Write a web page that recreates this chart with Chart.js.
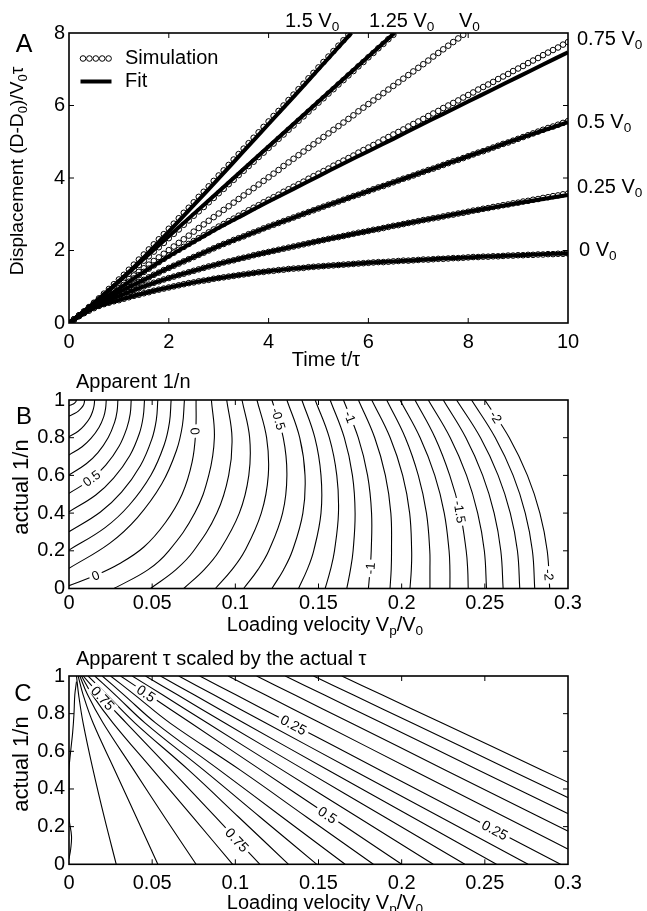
<!DOCTYPE html>
<html>
<head>
<meta charset="utf-8">
<script src="https://cdn.jsdelivr.net/npm/chart.js@4.4.0/dist/chart.umd.min.js"></script>
<style>
  html, body { margin: 0; padding: 0; background: #fff; }
  #wrap { position: relative; width: 647px; height: 911px; overflow: hidden; }
  canvas { position: absolute; left: 0; }
</style>
</head>
<body>
<div id="wrap">
  <canvas id="chartA" width="647" height="370" style="top:0px"></canvas>
  <canvas id="chartB" width="647" height="270" style="top:370px"></canvas>
  <canvas id="chartC" width="647" height="271" style="top:640px"></canvas>
</div>
<script>
// ---------------- Panel A data ----------------
const SIM_T = [0,0.1,0.2,0.3,0.4,0.5,0.6,0.7,0.8,0.9,1,1.1,1.2,1.3,1.4,1.5,1.6,1.7,1.8,1.9,
  2,2.1,2.2,2.3,2.4,2.5,2.6,2.7,2.8,2.9,3,3.1,3.2,3.3,3.4,3.5,3.6,3.7,3.8,3.9,
  4,4.1,4.2,4.3,4.4,4.5,4.6,4.7,4.8,4.9,5,5.1,5.2,5.3,5.4,5.5,5.6,5.7,5.8,5.9,
  6,6.1,6.2,6.3,6.4,6.5,6.6,6.7,6.8,6.9,7,7.1,7.2,7.3,7.4,7.5,7.6,7.7,7.8,7.9,
  8,8.1,8.2,8.3,8.4,8.5,8.6,8.7,8.8,8.9,9,9.1,9.2,9.3,9.4,9.5,9.6,9.7,9.8,9.9,10];

const sim0 = [0,.10,.19,.27,.34,.41,.47,.52,.56,.60,.63,
  .67,.71,.75,.78,.82,.85,.89,.92,.95,.98,
  1.01,1.04,1.07,1.10,1.12,1.15,1.17,1.19,1.22,1.24,
  1.26,1.28,1.30,1.32,1.34,1.36,1.38,1.40,1.41,1.43,
  1.44,1.46,1.47,1.49,1.50,1.51,1.52,1.54,1.55,1.56,
  1.57,1.58,1.59,1.60,1.61,1.62,1.63,1.64,1.65,1.66,
  1.67,1.68,1.68,1.69,1.70,1.71,1.72,1.72,1.73,1.74,
  1.75,1.75,1.76,1.77,1.77,1.78,1.79,1.79,1.80,1.81,
  1.82,1.82,1.83,1.83,1.84,1.84,1.85,1.86,1.86,1.87,
  1.87,1.88,1.88,1.89,1.89,1.90,1.90,1.91,1.91,1.92];

const sim025 = [0,.10,.19,.28,.36,.44,.51,.57,.63,.69,.74,
  .80,.85,.91,.96,1.01,1.06,1.11,1.15,1.20,1.24,
  1.28,1.32,1.36,1.40,1.44,1.48,1.52,1.56,1.59,1.63,
  1.67,1.70,1.73,1.77,1.80,1.83,1.87,1.90,1.93,1.96,
  1.99,2.02,2.05,2.08,2.11,2.14,2.17,2.20,2.23,2.26,
  2.29,2.32,2.35,2.37,2.40,2.43,2.46,2.49,2.51,2.54,
  2.57,2.59,2.62,2.65,2.68,2.70,2.73,2.76,2.78,2.81,
  2.84,2.86,2.89,2.91,2.94,2.97,2.99,3.02,3.04,3.07,
  3.10,3.12,3.15,3.17,3.20,3.22,3.25,3.27,3.30,3.32,
  3.35,3.37,3.40,3.42,3.45,3.47,3.50,3.52,3.55,3.57];

const sim05 = [0,.10,.20,.29,.38,.47,.55,.63,.71,.78,.85,
  .92,.99,1.06,1.13,1.19,1.26,1.33,1.39,1.46,1.52,
  1.58,1.64,1.70,1.76,1.82,1.88,1.94,2.00,2.06,2.12,
  2.18,2.23,2.29,2.34,2.39,2.45,2.50,2.55,2.61,2.66,
  2.71,2.76,2.81,2.86,2.91,2.96,3.01,3.06,3.11,3.16,
  3.21,3.26,3.30,3.35,3.40,3.45,3.50,3.54,3.59,3.64,
  3.69,3.74,3.78,3.83,3.88,3.93,3.98,4.02,4.07,4.12,
  4.17,4.22,4.26,4.31,4.36,4.41,4.46,4.50,4.55,4.60,
  4.65,4.70,4.74,4.79,4.84,4.89,4.94,4.98,5.03,5.08,
  5.13,5.18,5.23,5.28,5.33,5.38,5.42,5.47,5.52,5.57];

const sim075 = [0,.10,.20,.30,.39,.49,.59,.68,.78,.87,.96,
  1.05,1.14,1.23,1.32,1.41,1.50,1.59,1.68,1.77,1.86,
  1.94,2.02,2.10,2.18,2.26,2.34,2.42,2.50,2.58,2.66,
  2.73,2.81,2.88,2.96,3.03,3.11,3.18,3.25,3.33,3.40,
  3.47,3.54,3.62,3.69,3.76,3.83,3.90,3.98,4.05,4.12,
  4.19,4.26,4.34,4.41,4.48,4.55,4.62,4.70,4.77,4.84,
  4.91,4.98,5.06,5.13,5.20,5.27,5.34,5.42,5.49,5.56,
  5.63,5.71,5.78,5.85,5.93,6.00,6.07,6.14,6.22,6.29,
  6.36,6.44,6.51,6.58,6.65,6.73,6.80,6.87,6.95,7.02,
  7.09,7.17,7.24,7.31,7.39,7.46,7.53,7.60,7.68,7.75];

const simV0 = [0,.10,.20,.30,.40,.50,.60,.70,.80,.90,
  1.01,1.11,1.21,1.31,1.41,1.51,1.61,1.71,1.81,1.91,
  2.01,2.11,2.21,2.31,2.41,2.52,2.62,2.72,2.82,2.92,
  3.02,3.12,3.22,3.32,3.42,3.52,3.62,3.72,3.82,3.92,
  4.02,4.12,4.22,4.33,4.43,4.53,4.63,4.73,4.83,4.93,
  5.03,5.13,5.23,5.33,5.43,5.53,5.63,5.73,5.84,5.94,
  6.04,6.14,6.24,6.34,6.44,6.54,6.64,6.74,6.84,6.94,
  7.04,7.14,7.24,7.35,7.45,7.55,7.65,7.75,7.85,7.95];

const sim125 = [0,.10,.21,.31,.42,.54,.65,.76,.88,1.00,1.12,
  1.24,1.36,1.48,1.60,1.72,1.84,1.97,2.09,2.21,2.34,
  2.46,2.58,2.71,2.83,2.96,3.08,3.20,3.33,3.45,3.58,
  3.70,3.83,3.95,4.08,4.20,4.33,4.45,4.58,4.70,4.83,
  4.95,5.08,5.20,5.33,5.45,5.58,5.70,5.83,5.95,6.08,
  6.20,6.33,6.45,6.58,6.70,6.83,6.95,7.08,7.20,7.33,
  7.45,7.58,7.70,7.83,7.95];

const sim15 = [0,.10,.21,.32,.44,.56,.68,.81,.94,1.07,1.20,
  1.33,1.47,1.61,1.75,1.89,2.03,2.17,2.31,2.45,2.60,
  2.74,2.89,3.04,3.18,3.33,3.48,3.62,3.77,3.92,4.07,
  4.21,4.36,4.51,4.66,4.81,4.96,5.11,5.26,5.41,5.56,
  5.71,5.85,6.00,6.15,6.30,6.45,6.60,6.75,6.90,7.05,
  7.20,7.35,7.50,7.65,7.80,7.95];

const FIT_T = [0,0.5,1,1.5,2,2.5,3,3.5,4,4.5,5,5.5,6,6.5,7,7.5,8,8.5,9,9.5,10];
const fit0   = [0,.41,.63,.82,.98,1.12,1.24,1.34,1.43,1.50,1.56,1.61,1.66,1.70,1.74,1.78,1.81,1.84,1.87,1.90,1.92];
const fit025 = [0,.44,.74,1.01,1.24,1.44,1.63,1.80,1.96,2.11,2.26,2.40,2.54,2.68,2.81,2.94,3.07,3.19,3.31,3.42,3.53];
const fit05  = [0,.47,.85,1.19,1.52,1.82,2.12,2.39,2.66,2.91,3.16,3.40,3.64,3.88,4.12,4.36,4.60,4.84,5.08,5.31,5.54];
const fit075 = [0,.49,.95,1.41,1.84,2.24,2.63,2.99,3.35,3.70,4.05,4.40,4.74,5.08,5.43,5.77,6.11,6.45,6.79,7.13,7.47];
const FIT125_T = [0,0.5,1,1.5,2,2.5,3,3.5,4,4.5,5,5.5,6,6.5,6.52];
const fit125 = [0,.55,1.15,1.77,2.39,3.01,3.63,4.25,4.87,5.49,6.11,6.73,7.35,7.97,8.0];
const FIT15_T = [0,0.5,1,1.5,2,2.5,3,3.5,4,4.5,5,5.5,5.66];
const fit15 = [0,.54,1.15,1.81,2.52,3.25,3.99,4.74,5.49,6.24,7.00,7.76,8.0];

const A_X_TICKS = [0, 10, 2];   // min, max, step
const A_Y_TICKS = [0, 8, 2];

// ---------------- Panel B data: contour lines of apparent 1/n ([x, y] pairs) ----------------
const B_LINES = [
  [[0,.97],[.0016,.975],[.0026,.979],[.0035,.985],[.0041,.991],[.0043,.996],[.0044,1]],
  [[0,.915],[.0033,.928],[.0056,.941],[.0075,.958],[.0088,.975],[.0092,.987],[.0094,1]],
  [[0,.805],[.0055,.834],[.0091,.864],[.0124,.903],[.0143,.942],[.0151,.971],[.0154,1]],
  [[0,.708],[.0079,.752],[.0132,.796],[.0180,.854],[.0209,.912],[.0220,.956],[.0224,1]],
  [[0,.602],[.0104,.662],[.0174,.721],[.0236,.801],[.0274,.881],[.0289,.940],[.0294,1]],
  [[0,.505],[.0132,.579],[.0221,.654],[.0300,.753],[.0348,.852],[.0368,.926],[.0374,1]],
  [[0,.407],[.0161,.496],[.0268,.585],[.0365,.704],[.0423,.822],[.0446,.911],[.0454,1]],
  [[0,.301],[.0189,.406],[.0316,.511],[.0429,.651],[.0497,.790],[.0525,.895],[.0534,1]],
  [[0,.204],[.0217,.323],[.0363,.443],[.0493,.602],[.0572,.761],[.0604,.881],[.0614,1]],
  [[0,.107],[.0246,.241],[.0410,.375],[.0557,.554],[.0646,.732],[.0682,.866],[.0694,1]],
  [[0,.015],[.016,.07],[.030,.13],[.045,.22],[.058,.35],[.068,.5],[.074,.67],[.0762,.835],[.0764,1]],
  [[.027,0],[.0476,.1],[.060,.2],[.0756,.4],[.0840,.6],[.0874,.8],[.0856,1]],
  [[.049,0],[.0643,.1],[.075,.2],[.0889,.4],[.096,.6],[.098,.8],[.0948,1]],
  [[.069,0],[.0813,.1],[.0904,.2],[.1024,.4],[.1081,.6],[.1086,.8],[.104,1]],
  [[.088,0],[.098,.1],[.1057,.2],[.1156,.4],[.1198,.6],[.1188,.8],[.113,1]],
  [[.105,0],[.1136,.1],[.1201,.2],[.1284,.4],[.131,.6],[.1288,.8],[.122,1]],
  [[.122,0],[.129,.1],[.1343,.2],[.1406,.4],[.1419,.6],[.1387,.8],[.131,1]],
  [[.138,0],[.1432,.1],[.1471,.2],[.1515,.4],[.1515,.6],[.1478,.8],[.140,1]],
  [[.154,0],[.1572,.1],[.1596,.2],[.162,.4],[.161,.6],[.1565,.8],[.148,1]],
  [[.167,0],[.1692,.1],[.1708,.2],[.172,.4],[.1704,.6],[.1655,.8],[.157,1]],
  [[.180,0],[.181,.1],[.1817,.2],[.1819,.4],[.1795,.6],[.1739,.8],[.165,1]],
  [[.193,0],[.1937,.1],[.1939,.2],[.1935,.4],[.1902,.6],[.1838,.8],[.174,1]],
  [[.205,0],[.2058,.1],[.206,.2],[.2048,.4],[.2006,.6],[.1931,.8],[.182,1]],
  [[.217,0],[.217,.1],[.2169,.2],[.2149,.4],[.210,.6],[.2022,.8],[.191,1]],
  [[.229,0],[.229,.1],[.2285,.2],[.2256,.4],[.2199,.6],[.2111,.8],[.199,1]],
  [[.240,0],[.2397,.1],[.2388,.2],[.2352,.4],[.2289,.6],[.2201,.8],[.208,1]],
  [[.251,0],[.2497,.2],[.2457,.4],[.239,.6],[.2292,.8],[.216,1]],
  [[.261,0],[.2596,.2],[.2556,.4],[.2487,.6],[.2386,.8],[.225,1]],
  [[.271,0],[.2696,.2],[.2653,.4],[.258,.6],[.2474,.8],[.233,1]],
  [[.280,0],[.2786,.2],[.2743,.4],[.267,.6],[.2563,.8],[.242,1]],
  [[.289,0],[.2875,.2],[.2831,.4],[.2756,.6],[.2647,.8],[.250,1]]
];
// contour labels: text, x, y, angle (deg)
const B_LABELS = [
  ['0.5', .0135, .585, -37], ['0', .016, .07, -23], ['0', .0758, .835, 85],
  ['-0.5', .126, .9, 73], ['-1', .169, .91, 69], ['-2', .2567, .91, 57],
  ['-1.5', .235, .407, 81], ['-1', .181, .107, -86], ['-2', .2885, .072, 86]
];

// ---------------- Panel C data: contour lines of apparent tau / actual tau ----------------
const C_LINES = [
  [[.0045,.97],[.0035,.9],[.003,.8],[.0022,.7],[.001,.6],[0,.5],[0,.25],[.0015,.15],[.001,.08],[0,.03]],
  [[.0045,1],[.0058,.9],[.0085,.75],[.0145,.5],[.0212,.25],[.0284,0]],
  [[.0055,1],[.0085,.9],[.0145,.75],[.0275,.5],[.0405,.25],[.0534,0]],
  [[.0065,1],[.0112,.9],[.0205,.75],[.039,.5],[.0575,.25],[.0764,0]],
  [[.0075,1],[.0140,.9],[.0265,.75],[.0505,.5],[.0745,.25],[.0984,0]],
  [[.0085,1],[.0185,.9],[.0345,.75],[.0615,.5],[.0882,.25],[.1148,0]],
  [[.0115,1],[.0228,.9],[.0397,.75],[.0720,.5],[.1021,.25],[.132,0]],
  [[.0155,1],[.0278,.9],[.0458,.75],[.0810,.5],[.1150,.25],[.149,0]],
  [[.020,1],[.0330,.9],[.0522,.75],[.0905,.5],[.1283,.25],[.166,0]],
  [[.025,1],[.0395,.9],[.0608,.75],[.1030,.5],[.1430,.25],[.183,0]],
  [[.031,1],[.0479,.9],[.0733,.75],[.1155,.5],[.1578,.25],[.200,0]],
  [[.038,1],[.0562,.9],[.0832,.75],[.1283,.5],[.1737,.25],[.219,0]],
  [[.046,1],[.0652,.9],[.0937,.75],[.1418,.5],[.1900,.25],[.238,0]],
  [[.055,1],[.0752,.9],[.1052,.75],[.1559,.5],[.2065,.25],[.257,0]],
  [[.066,1],[.0870,.9],[.1183,.75],[.1709,.5],[.2235,.25],[.276,0]],
  [[.0786,1],[.1003,.9],[.1328,.75],[.1871,.5],[.2413,.25],[.2955,0]],
  [[.0957,1],[.1179,.9],[.1512,.75],[.2068,.5],[.2624,.25],[.318,0]],
  [[.1128,1],[.1355,.9],[.1696,.75],[.2264,.5],[.2832,.25],[.340,0]],
  [[.130,1],[.1533,.9],[.1882,.75],[.2463,.5],[.3045,.25],[.3626,0]],
  [[.147,1],[.1707,.9],[.2063,.75],[.2655,.5],[.3248,.25],[.384,0]],
  [[.164,1],[.1881,.9],[.2243,.75],[.2845,.5],[.3448,.25],[.405,0]]
];
const C_LABELS = [
  ['0.75', .0204, .882, 47], ['0.5', .0464, .908, 34], ['0.25', .135, .74, 28],
  ['0.5', .1555, .262, 34], ['0.25', .256, .182, 28], ['0.75', .101, .129, 47]
];

const VEL_TICKS = [0, 0.3, 0.05];
const N_TICKS = [0, 1, 0.2];

// ---------------- Helpers ----------------
const FONT = "'Liberation Sans', Arial, Helvetica, sans-serif";
Chart.defaults.font.family = FONT;
Chart.defaults.color = "#000";

function pairs(ts, ys) {
  return ys.map((y, i) => ({ x: ts[i], y }));
}

// "_c" means: c is a subscript
function drawRich(ctx, str, x, y, size, align) {
  const parts = str.split(/(_.)/).filter(s => s !== "");
  const sub = size * 0.68;
  let w = 0;
  const items = parts.map(p => {
    const isSub = p[0] === "_" && p.length === 2;
    const t = isSub ? p[1] : p;
    ctx.font = `${isSub ? sub : size}px ${FONT}`;
    const pw = ctx.measureText(t).width;
    w += pw;
    return { t, isSub, pw };
  });
  let cx = align === "center" ? x - w / 2 : (align === "right" ? x - w : x);
  ctx.textBaseline = "middle";
  ctx.textAlign = "left";
  for (const it of items) {
    ctx.font = `${it.isSub ? sub : size}px ${FONT}`;
    ctx.fillText(it.t, cx, it.isSub ? y + size * 0.3 : y);
    cx += it.pw;
  }
}

function textPlugin(items) {
  return {
    id: "texts",
    afterDraw(chart) {
      const ctx = chart.ctx;
      ctx.save();
      ctx.fillStyle = "#000";
      for (const it of items) {
        ctx.save();
        ctx.translate(it.x, it.y);
        if (it.rot) ctx.rotate(it.rot * Math.PI / 180);
        drawRich(ctx, it.s, 0, 0, it.size || 20, it.align || "left");
        ctx.restore();
      }
      ctx.restore();
    }
  };
}

const framePlugin = {
  id: "frame",
  afterDraw(chart) {
    const { ctx, chartArea: a, scales } = chart;
    const L = 5;
    ctx.save();
    ctx.strokeStyle = "#000";
    ctx.lineWidth = 1;
    ctx.beginPath();
    for (const t of scales.x.ticks) {
      const px = scales.x.getPixelForValue(t.value);
      if (px <= a.left + 1 || px >= a.right - 1) continue;
      ctx.moveTo(px, a.bottom); ctx.lineTo(px, a.bottom - L);
      ctx.moveTo(px, a.top); ctx.lineTo(px, a.top + L);
    }
    for (const t of scales.y.ticks) {
      const py = scales.y.getPixelForValue(t.value);
      if (py <= a.top + 1 || py >= a.bottom - 1) continue;
      ctx.moveTo(a.left, py); ctx.lineTo(a.left + L, py);
      ctx.moveTo(a.right, py); ctx.lineTo(a.right - L, py);
    }
    ctx.stroke();
    ctx.lineWidth = 1.6;
    ctx.strokeRect(a.left, a.top, a.right - a.left, a.bottom - a.top);
    ctx.restore();
  }
};

function contourLabelPlugin(labels, size) {
  return {
    id: "clabels",
    afterDatasetsDraw(chart) {
      const { ctx, scales } = chart;
      ctx.save();
      ctx.font = `${size}px ${FONT}`;
      ctx.textAlign = "center";
      ctx.textBaseline = "middle";
      for (const [t, x, y, ang] of labels) {
        const px = scales.x.getPixelForValue(x);
        const py = scales.y.getPixelForValue(y);
        const w = ctx.measureText(t).width;
        ctx.save();
        ctx.translate(px, py);
        ctx.rotate(ang * Math.PI / 180);
        ctx.fillStyle = "#fff";
        ctx.fillRect(-w / 2 - 3, -size * 0.4, w + 6, size * 0.8);
        ctx.fillStyle = "#000";
        ctx.fillText(t, 0, 1);
        ctx.restore();
      }
      ctx.restore();
    }
  };
}

const legendA = {
  id: "legendA",
  afterDraw(chart) {
    const ctx = chart.ctx;
    ctx.save();
    ctx.strokeStyle = "#000";
    ctx.fillStyle = "#fff";
    ctx.lineWidth = 1;
    for (let i = 0; i < 5; i++) {
      ctx.beginPath();
      ctx.arc(83 + i * 6.4, 58.5, 2.8, 0, Math.PI * 2);
      ctx.fill();
      ctx.stroke();
    }
    ctx.lineWidth = 4;
    ctx.beginPath();
    ctx.moveTo(80.5, 81.5);
    ctx.lineTo(111.5, 81.5);
    ctx.stroke();
    ctx.fillStyle = "#000";
    drawRich(ctx, "Simulation", 125, 58, 20, "left");
    drawRich(ctx, "Fit", 125, 81, 20, "left");
    ctx.restore();
  }
};

function xAxis(tk, pad, h, digits) {
  return {
    type: "linear", min: tk[0], max: tk[1],
    grid: { display: false, drawTicks: false }, border: { display: false },
    ticks: { stepSize: tk[2], padding: pad, maxRotation: 0, autoSkip: false,
      font: { size: 20 }, callback: v => String(+Number(v).toFixed(digits)) },
    afterFit(s) { s.height = h; }
  };
}
function yAxis(tk, digits) {
  return {
    type: "linear", min: tk[0], max: tk[1],
    grid: { display: false, drawTicks: false }, border: { display: false },
    ticks: { stepSize: tk[2], padding: 4, autoSkip: false,
      font: { size: 20 }, callback: v => String(+Number(v).toFixed(digits)) },
    afterFit(s) { s.width = 69; }
  };
}

const baseOpts = {
  responsive: false, animation: false, events: [], devicePixelRatio: 1,
  plugins: { legend: { display: false }, tooltip: { enabled: false } }
};

// ---------------- Panel A ----------------
function simSet(ys) {
  return {
    data: pairs(SIM_T, ys), showLine: false, order: 1,
    pointRadius: 2.8, pointBorderWidth: 1, pointBorderColor: "#000",
    pointBackgroundColor: "#fff", pointStyle: "circle"
  };
}
function fitSet(ts, ys) {
  return {
    data: pairs(ts, ys), order: 0, borderColor: "#000", borderWidth: 4,
    pointRadius: 0, tension: 0.3, fill: false
  };
}

new Chart(document.getElementById("chartA"), {
  type: "line",
  data: {
    datasets: [
      fitSet(FIT_T, fit0), fitSet(FIT_T, fit025), fitSet(FIT_T, fit05), fitSet(FIT_T, fit075),
      fitSet(FIT125_T, fit125), fitSet(FIT15_T, fit15),
      simSet(sim0), simSet(sim025), simSet(sim05), simSet(sim075),
      simSet(simV0), simSet(sim125), simSet(sim15)
    ]
  },
  options: {
    ...baseOpts,
    layout: { padding: { top: 33, right: 79, left: 0, bottom: 0 } },
    scales: { x: xAxis(A_X_TICKS, 7, 47, 0), y: yAxis(A_Y_TICKS, 0) }
  },
  plugins: [framePlugin, legendA, textPlugin([
    { s: "A", x: 24, y: 45, size: 25, align: "center" },
    { s: "Displacement (D-D_0)/V_0τ", x: 18, y: 171, size: 19.2, rot: -90, align: "center" },
    { s: "Time t/τ", x: 326, y: 360, size: 20, align: "center" },
    { s: "1.5 V_0", x: 285, y: 21 },
    { s: "1.25 V_0", x: 369, y: 21 },
    { s: "V_0", x: 459, y: 21 },
    { s: "0.75 V_0", x: 577, y: 39 },
    { s: "0.5 V_0", x: 577, y: 122 },
    { s: "0.25 V_0", x: 577, y: 187 },
    { s: "0 V_0", x: 579, y: 250 }
  ])]
});

// ---------------- Panels B and C ----------------
function contourSets(lines) {
  return lines.map(pts => ({
    data: pts.map(([x, y]) => ({ x, y })), borderColor: "#000", borderWidth: 1.1,
    pointRadius: 0, tension: 0.4, fill: false
  }));
}

new Chart(document.getElementById("chartB"), {
  type: "line",
  data: { datasets: contourSets(B_LINES) },
  options: {
    ...baseOpts,
    layout: { padding: { top: 30, right: 79, left: 0, bottom: 0 } },
    scales: { x: xAxis(VEL_TICKS, 3, 51.5, 2), y: yAxis(N_TICKS, 1) }
  },
  plugins: [contourLabelPlugin(B_LABELS, 13), framePlugin, textPlugin([
    { s: "B", x: 24, y: 47, size: 24, align: "center" },
    { s: "Apparent 1/n", x: 76, y: 12, size: 20 },
    { s: "actual 1/n", x: 22, y: 117, size: 22, rot: -90, align: "center" },
    { s: "Loading velocity V_p/V_0", x: 325, y: 255, size: 20, align: "center" }
  ])]
});

new Chart(document.getElementById("chartC"), {
  type: "line",
  data: { datasets: contourSets(C_LINES) },
  options: {
    ...baseOpts,
    layout: { padding: { top: 36, right: 79, left: 0, bottom: 0 } },
    scales: { x: xAxis(VEL_TICKS, 7, 46.7, 2), y: yAxis(N_TICKS, 1) }
  },
  plugins: [contourLabelPlugin(C_LABELS, 14), framePlugin, textPlugin([
    { s: "C", x: 23, y: 54, size: 24, align: "center" },
    { s: "Apparent τ scaled by the actual τ", x: 76, y: 19, size: 20 },
    { s: "actual 1/n", x: 22, y: 124, size: 22, rot: -90, align: "center" },
    { s: "Loading velocity V_p/V_0", x: 325, y: 263, size: 20, align: "center" }
  ])]
});
</script>
</body>
</html>
